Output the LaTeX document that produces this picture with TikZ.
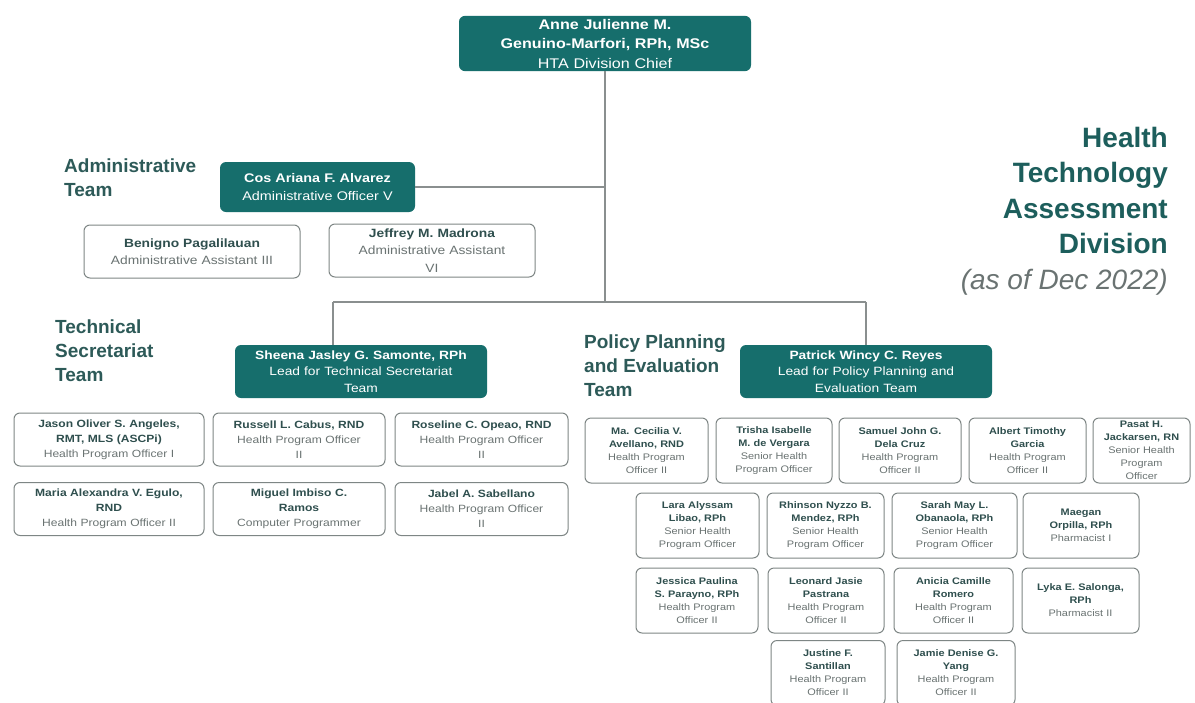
\documentclass[tikz,border=0pt]{standalone}
\usepackage{fontspec}
\setmainfont{Liberation Sans}
\newfontfamily\boxfont[FakeStretch=1.15]{Liberation Sans}

\definecolor{htateal}{HTML}{166E6C}
\definecolor{headtxt}{HTML}{1D5E5C}
\definecolor{teamtxt}{HTML}{2D5A58}
\definecolor{nametxt}{HTML}{2F4F4E}
\definecolor{titletxt}{HTML}{6A7372}
\definecolor{boxgray}{HTML}{7E8685}
\definecolor{linegray}{HTML}{8A8F8F}

\newcommand{\who}[2]{{\bfseries\color{nametxt}#1}\\#2}
\newcommand{\lead}[2]{{\bfseries #1}\\#2}

\tikzset{
  leadbox/.style={fill=htateal, rounded corners=6pt, text=white, align=center, inner sep=3pt},
  staffbox/.style={draw=boxgray, line width=1pt, rounded corners=6pt, fill=white, text=titletxt, align=center, inner sep=3pt},
  teamlabel/.style={anchor=north west, inner sep=0pt, align=left, text=teamtxt, font=\fontsize{19}{24}\selectfont\bfseries},
  link/.style={draw=linegray, line width=1.1pt}
}

\begin{document}
\begin{tikzpicture}[x=1pt,y=-1pt]
		\useasboundingbox (0,0) rectangle (1195,702);
		\fill[white] (0,0) rectangle (1195,702);
		\clip (0,0) rectangle (1195,702);
		
		% Title
		\node[anchor=north east, inner sep=0pt, align=right, text=headtxt,
		      font=\fontsize{28}{35.5}\selectfont\bfseries] (title) at (1168,127)
		      {Health\\ Technology\\ Assessment\\ Division\\ {\mdseries\itshape\color{titletxt}(as of Dec 2022)}};
		
		% Leads
		\node[leadbox, text width=286pt, minimum height=53pt, font=\boxfont\fontsize{14}{19.5}\selectfont] (chief) at (605,43.5)
		      {\lead{Anne Julienne M.\\ Genuino-Marfori, RPh, MSc}{HTA Division Chief}};
		\node[leadbox, text width=189pt, minimum height=50pt, font=\boxfont\fontsize{12.5}{18}\selectfont] (al) at (317.5,187)
		      {\lead{Cos Ariana F. Alvarez}{Administrative Officer V}};
		\node[leadbox, text width=246pt, minimum height=53pt, font=\boxfont\fontsize{12}{16.5}\selectfont] (tl) at (361,371.5)
		      {\lead{Sheena Jasley G. Samonte, RPh}{Lead for Technical Secretariat\\ Team}};
		\node[leadbox, text width=246pt, minimum height=53pt, font=\boxfont\fontsize{12}{16.5}\selectfont] (pl) at (866,371.5)
		      {\lead{Patrick Wincy C. Reyes}{Lead for Policy Planning and\\ Evaluation Team}};
		
		% Team labels
		\node[teamlabel] (adm) at (64,159) {Administrative\\ Team};
		\node[teamlabel] (tec) at (55,320) {Technical\\ Secretariat\\ Team};
		\node[teamlabel] (pol) at (584,335) {Policy Planning\\ and Evaluation\\ Team};
		
		% Connectors
		\coordinate (bus) at (chief.south |- 0,302);
		\coordinate (tsdrop) at (333,302);
		\coordinate (ppdrop) at (pl.north |- bus);
		\draw[link] (chief.south) -- (bus);
		\draw[link] (al.east) -- (al.east -| chief.south);
		\draw[link] (tsdrop) -- (ppdrop);
		\draw[link] (tsdrop) -- (tsdrop |- tl.north);
		\draw[link] (ppdrop) -- (pl.north);
		
		% Administrative staff
		\foreach \id/\cx/\cy/\w/\nm/\job in {
			as1/192/251.5/216/{Benigno Pagalilauan}/{Administrative Assistant III},
			as2/432/250.5/206/{Jeffrey M. Madrona}/{Administrative Assistant\\ VI}} {
			\pgfmathsetmacro\tw{\w-6}
			\node[staffbox, text width=\tw pt, minimum height=53pt, font=\boxfont\fontsize{12}{17.5}\selectfont] (\id) at (\cx,\cy) {\who{\nm}{\job}};
		}
		
		% Technical secretariat staff
		\foreach \id/\cx/\cy/\w/\nm/\job in {
			ts1/109/439.5/190/{Jason Oliver S. Angeles,\\ RMT, MLS (ASCPi)}/{Health Program Officer I},
			ts2/299/439.5/172/{Russell L. Cabus, RND}/{Health Program Officer\\ II},
			ts3/481.5/439.5/173/{Roseline C. Opeao, RND}/{Health Program Officer\\ II},
			ts4/109/509/190/{Maria Alexandra V. Egulo,\\ RND}/{Health Program Officer II},
			ts5/299/509/172/{Miguel Imbiso C.\\ Ramos}/{Computer Programmer},
			ts6/481.5/509/173/{Jabel A. Sabellano}/{Health Program Officer\\ II}} {
			\pgfmathsetmacro\tw{\w-6}
			\node[staffbox, text width=\tw pt, minimum height=53pt, font=\boxfont\fontsize{10.5}{15}\selectfont] (\id) at (\cx,\cy) {\who{\nm}{\job}};
		}
		
		% Policy planning and evaluation staff
		\foreach \id/\cx/\cy/\w/\nm/\job in {
			pp1/646.5/450.5/123/{Ma. Cecilia V.\\ Avellano, RND}/{Health Program\\ Officer II},
			pp2/774/450.5/116/{Trisha Isabelle\\ M. de Vergara}/{Senior Health\\ Program Officer},
			pp3/900/450.5/122/{Samuel John G.\\ Dela Cruz}/{Health Program\\ Officer II},
			pp4/1027.5/450.5/117/{Albert Timothy\\ Garcia}/{Health Program\\ Officer II},
			pp5/1141.5/450.5/97/{Pasat H.\\ Jackarsen, RN}/{Senior Health\\ Program\\ Officer},
			pp6/697.5/525.5/123/{Lara Alyssam\\ Libao, RPh}/{Senior Health\\ Program Officer},
			pp7/825.5/525.5/117/{Rhinson Nyzzo B.\\ Mendez, RPh}/{Senior Health\\ Program Officer},
			pp8/954.5/525.5/125/{Sarah May L.\\ Obanaola, RPh}/{Senior Health\\ Program Officer},
			pp9/1081/525.5/116/{Maegan\\ Orpilla, RPh}/{Pharmacist I},
			pp10/697/600.5/122/{Jessica Paulina\\ S. Parayno, RPh}/{Health Program\\ Officer II},
			pp11/826/600.5/116/{Leonard Jasie\\ Pastrana}/{Health Program\\ Officer II},
			pp12/953.5/600.5/119/{Anicia Camille\\ Romero}/{Health Program\\ Officer II},
			pp13/1080.5/600.5/117/{Lyka E. Salonga,\\ RPh}/{Pharmacist II},
			pp14/828/673/114/{Justine F.\\ Santillan}/{Health Program\\ Officer II},
			pp15/956/673/118/{Jamie Denise G.\\ Yang}/{Health Program\\ Officer II}} {
			\pgfmathsetmacro\tw{\w-6}
			\node[staffbox, text width=\tw pt, minimum height=65pt, font=\boxfont\fontsize{9.5}{13}\selectfont] (\id) at (\cx,\cy) {\who{\nm}{\job}};
		}
		
	\end{tikzpicture}
\end{document}
